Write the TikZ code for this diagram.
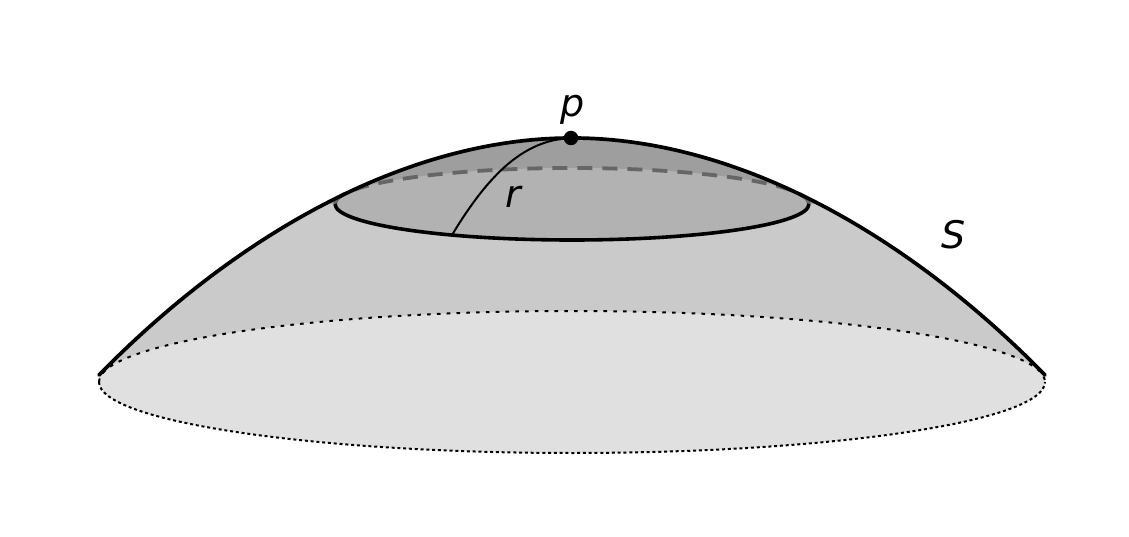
\documentclass[tikz,border=0pt]{standalone}
\usepackage{fontspec}
\setmainfont{DejaVu Sans}
\definecolor{bodygray}{HTML}{CACACA}
\definecolor{basegray}{HTML}{E0E0E0}
\definecolor{capdark}{HTML}{9E9E9E}
\definecolor{capdisc}{HTML}{B2B2B2}
\definecolor{dashgray}{HTML}{666666}
\tikzset{
  outlineline/.style={line width=3.7pt,black,line cap=round},
  rimfront/.style={line width=3.6pt,black},
  rimback/.style={line width=3.8pt,dashgray,dash pattern=on 15pt off 10pt},
  upper dots/.style={line width=2pt,black,dash pattern=on 3.6pt off 6.2pt},
  lower dots/.style={line width=2pt,black,dash pattern=on 3pt off 2.8pt},
  radiusline/.style={line width=2pt,black},
  lbl/.style={font=\fontsize{38}{38}\selectfont\itshape,inner sep=0pt,text=black},
}
\newcommand{\outlinepath}{(99,375) .. controls (240,231) and (410,138) .. (572,138) .. controls (734,138) and (904,231) .. (1045,375)}
\begin{document}
\begin{tikzpicture}[x=1pt,y=-1pt]
\useasboundingbox (0,0) rectangle (1129,537);
% body
\fill[bodygray] \outlinepath -- (1045,382) -- (99,382) -- cycle;
% dark cap
\begin{scope}
  \clip \outlinepath -- cycle;
  \fill[capdark] (300,100) rectangle (850,204);
\end{scope}
% disc
\fill[capdisc] (572,204) ellipse [x radius=237pt,y radius=36pt];
% base
\fill[basegray] (572,382) ellipse [x radius=473pt,y radius=71pt];
\draw[upper dots] (99,382) arc [start angle=180,end angle=0,x radius=473pt,y radius=71pt];
\draw[lower dots] (99,382) arc [start angle=180,end angle=360,x radius=473pt,y radius=71pt];
% rim
\draw[rimback] (335,204) arc [start angle=180,end angle=0,x radius=237pt,y radius=36pt];
\draw[rimfront] (335,204) arc [start angle=180,end angle=360,x radius=237pt,y radius=36pt];
% outline
\draw[outlineline] \outlinepath;
% radius
\coordinate (rimpoint) at (452,235);
\node[circle,fill=black,inner sep=0pt,minimum size=14.5pt] (pdot) at (571,138) {};
\draw[radiusline] (rimpoint) .. controls (490,172) and (525,140) .. (pdot.center);
% labels
\node[lbl] (plabel) at (573,110) {p};
\node[lbl] (rlabel) at (513,197) {r};
\node[lbl] (slabel) at (954,235) {S};
\end{tikzpicture}
\end{document}
